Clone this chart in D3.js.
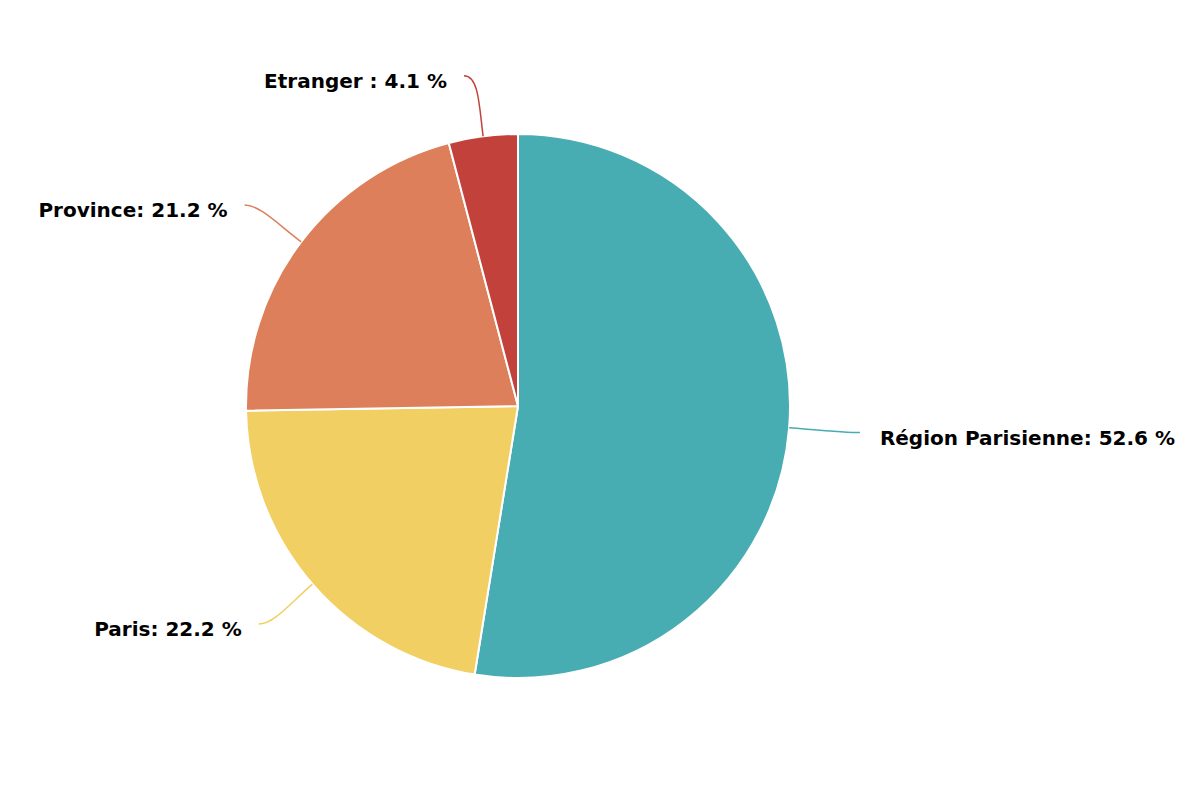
<!DOCTYPE html>
<html>
<head>
<meta charset="utf-8">
<script src="https://cdn.jsdelivr.net/npm/d3@7"></script>
<style>
  body { margin: 0; background: #fff; }
  text { font-family: "DejaVu Sans", sans-serif; font-weight: bold; font-size: 20px; fill: #000; }
</style>
</head>
<body>
<svg id="chart" width="1200" height="800"></svg>
<script>
// slices, clockwise from 12 o'clock
const categories = ['Région Parisienne', 'Paris', 'Province', 'Etranger '];
const shares = [52.6, 22.2, 21.2, 4.1];
const colors = ['#48acb3', '#f2cf63', '#dd7f5a', '#c2423b'];

const width = 1200, height = 800;
const cx = 518, cy = 406, radius = 272;

const data = categories.map((c, i) => ({ name: c, value: shares[i], color: colors[i] }));

const svg = d3.select('#chart');
const g = svg.append('g').attr('transform', `translate(${cx}, ${cy})`);

const pie = d3.pie().value(d => d.value).sort(null);
const arc = d3.arc().innerRadius(0).outerRadius(radius);
const arcs = pie(data);

g.selectAll('path.slice').data(arcs).enter().append('path')
  .attr('class', 'slice')
  .attr('d', arc)
  .attr('fill', d => d.data.color)
  .attr('stroke', '#fff')
  .attr('stroke-width', 2)
  .attr('stroke-linejoin', 'round');

const polar = (a, rx, ry) => [rx * Math.sin(a), -(ry || rx) * Math.cos(a)];

arcs.forEach(d => {
  const mid = (d.startAngle + d.endAngle) / 2;
  const right = Math.sin(mid) > 0;
  const s = polar(mid, radius);
  const c2 = polar(mid, radius + 30);
  const e = polar(mid, 343, 333);
  if (Math.abs(Math.sin(mid)) < 0.2) e[0] -= 10; // near the top, label slides outward
  const c1 = [e[0] + (right ? -15 : 15), e[1]];

  g.append('path')
    .attr('d', `M${e[0]},${e[1]} C${c1[0]},${c1[1]} ${c2[0]},${c2[1]} ${s[0]},${s[1]}`)
    .attr('fill', 'none')
    .attr('stroke', d.data.color)
    .attr('stroke-width', 1.5);

  g.append('text')
    .attr('x', e[0] + (right ? 20 : -17))
    .attr('y', e[1] + 5)
    .attr('dy', '0.35em')
    .attr('text-anchor', right ? 'start' : 'end')
    .text(`${d.data.name}: ${d.data.value.toFixed(1)} %`);
});
</script>
</body>
</html>
